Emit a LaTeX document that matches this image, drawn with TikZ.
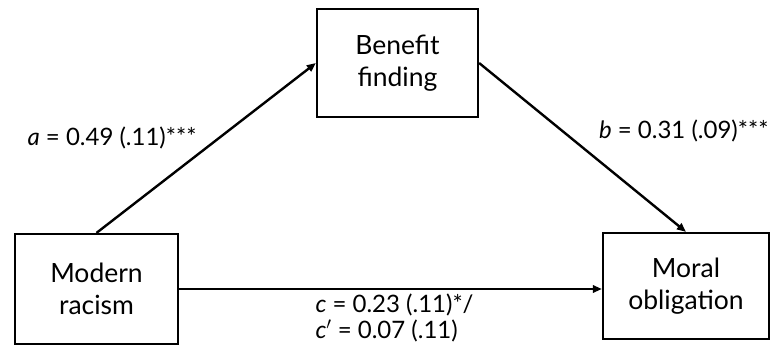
\documentclass[tikz,border=0pt]{standalone}
\usepackage{fontspec}
\setmainfont{Lato}
\usetikzlibrary{arrows.meta,positioning}
\tikzset{
  >={Triangle[length=3.2mm,width=2.6mm]},
  varbox/.style={draw=black, line width=2.2pt, align=center, font=\fontsize{26.5}{32}\selectfont},
  path/.style={->, draw=black, line width=2.4pt},
  coef/.style={font=\fontsize{24}{26}\selectfont, text=black},
}

\begin{document}
\begin{tikzpicture}[x=1pt,y=-1pt]

\useasboundingbox (0,0) rectangle (773,352);

% -----------------------------------------------------------------------------
% Variables
% -----------------------------------------------------------------------------
\node[varbox, minimum width=161pt, minimum height=108pt] (benefit) at (397.5,63) {Benefit\\finding};
\node[varbox, minimum width=163pt, minimum height=110pt] (racism) at (96.5,289) {Modern\\racism};
\node[varbox, minimum width=166pt, minimum height=106pt] (moral) at (686,286) {Moral\\obligation};

% -----------------------------------------------------------------------------
% Paths
% -----------------------------------------------------------------------------
\draw[path] (racism.north) -- (benefit.west);
\draw[path] (benefit.east) -- (moral.north);
\draw[path] (racism.east) -- (racism.east -| moral.west);

% coefficients
\node[coef, anchor=west] (alab) at (24,138) {\textit{a} = 0.49 (.11)***};
\node[coef, anchor=east] (blab) at (772,131) {\textit{b} = 0.31 (.09)***};
\node[coef, anchor=west, align=left] (clab) at (312,318) {\textit{c} = 0.23 (.11)*/\\\textit{c}$'$ = 0.07 (.11)};

\end{tikzpicture}
\end{document}
